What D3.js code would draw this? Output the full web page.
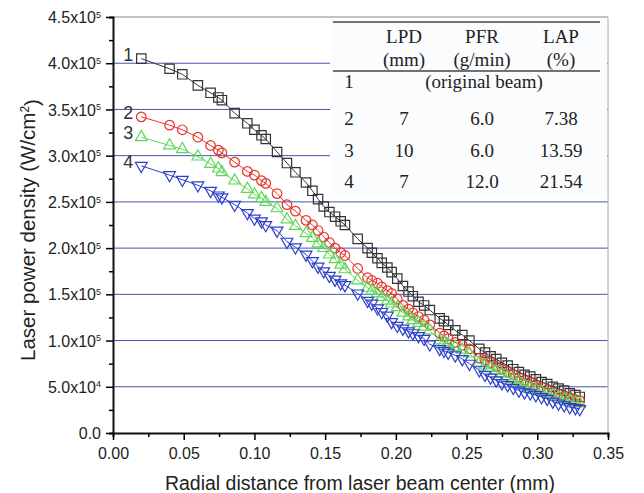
<!DOCTYPE html>
<meta charset="utf-8">
<head>
<script src="https://d3js.org/d3.v7.min.js"></script>
<style>
  body { margin: 0; background: #fff; }
  svg { display: block; }
  .tick-label { font-family: "Liberation Sans", Arial, sans-serif; font-size: 16px; fill: #222; }
  .tbl { font-family: "Liberation Serif", "Times New Roman", serif; font-size: 19px; fill: #222; }
</style>
</head>
<body>
<svg width="644" height="493"></svg>
<script>

// radial distance (mm), shared by all four curves
var xs = [0.020, 0.040, 0.049, 0.060, 0.069, 0.0745, 0.077, 0.086, 0.095, 0.100, 0.105, 0.108, 0.116, 0.123, 0.129, 0.1365, 0.141, 0.145,
          0.149, 0.153, 0.157, 0.161, 0.164, 0.173,
          0.180, 0.183, 0.187, 0.190, 0.194, 0.197, 0.201, 0.205, 0.209, 0.212, 0.216, 0.220, 0.224,
          0.231, 0.234, 0.237, 0.242, 0.247, 0.252,
          0.259, 0.263, 0.267, 0.271, 0.275, 0.279, 0.283, 0.287, 0.291, 0.295, 0.299, 0.303, 0.307, 0.311, 0.315, 0.319, 0.323, 0.327, 0.330];

// laser power density, x10^5 W/cm2
var s1 = [4.05, 3.94, 3.88, 3.76, 3.68, 3.63, 3.60, 3.46, 3.35, 3.28, 3.22, 3.18, 3.04, 2.92, 2.82, 2.71, 2.62, 2.53,
          2.45, 2.39, 2.34, 2.29, 2.25, 2.10,
          2.00, 1.95, 1.89, 1.84, 1.79, 1.74, 1.67, 1.59, 1.53, 1.48, 1.42, 1.38, 1.33,
          1.24, 1.21, 1.17, 1.11, 1.06, 1.00,
          0.91, 0.87, 0.83, 0.80, 0.76, 0.73, 0.69, 0.66, 0.63, 0.61, 0.58, 0.55, 0.53, 0.50, 0.48, 0.46, 0.43, 0.41, 0.39];
var s2 = [3.42, 3.33, 3.28, 3.20, 3.11, 3.06, 3.03, 2.93, 2.83, 2.79, 2.73, 2.70, 2.59, 2.47, 2.40, 2.30, 2.25, 2.19,
          2.12, 2.06, 2.00, 1.95, 1.92, 1.78,
          1.68, 1.65, 1.62, 1.58, 1.54, 1.51, 1.45, 1.38, 1.34, 1.30, 1.26, 1.22, 1.17,
          1.08, 1.05, 1.02, 0.98, 0.95, 0.91,
          0.81, 0.79, 0.76, 0.72, 0.69, 0.66, 0.63, 0.60, 0.57, 0.55, 0.52, 0.50, 0.47, 0.44, 0.42, 0.40, 0.38, 0.36, 0.35];
var s3 = [3.20, 3.11, 3.07, 2.99, 2.91, 2.86, 2.82, 2.73, 2.64, 2.58, 2.54, 2.50, 2.43, 2.31, 2.24, 2.16, 2.11, 2.05,
          2.00, 1.93, 1.88, 1.82, 1.77, 1.65,
          1.57, 1.54, 1.51, 1.47, 1.43, 1.40, 1.36, 1.30, 1.26, 1.22, 1.19, 1.15, 1.11,
          1.00, 0.98, 0.96, 0.93, 0.90, 0.86,
          0.76, 0.73, 0.70, 0.67, 0.64, 0.61, 0.58, 0.55, 0.52, 0.49, 0.47, 0.45, 0.43, 0.41, 0.39, 0.37, 0.35, 0.33, 0.32];
var s4 = [2.89, 2.79, 2.74, 2.68, 2.62, 2.57, 2.55, 2.47, 2.38, 2.32, 2.29, 2.25, 2.19, 2.07, 2.01, 1.93, 1.86, 1.80,
          1.75, 1.70, 1.66, 1.62, 1.60, 1.51,
          1.43, 1.40, 1.35, 1.31, 1.27, 1.20, 1.16, 1.13, 1.10, 1.08, 1.05, 1.02, 0.96,
          0.91, 0.89, 0.87, 0.84, 0.80, 0.75,
          0.68, 0.63, 0.60, 0.57, 0.54, 0.52, 0.49, 0.46, 0.44, 0.43, 0.41, 0.39, 0.37, 0.34, 0.32, 0.30, 0.28, 0.27, 0.26];

var yTicks = [0, 5e4, 1e5, 1.5e5, 2e5, 2.5e5, 3e5, 3.5e5, 4e5, 4.5e5];

var tableHead = [["", "LPD", "PFR", "LAP"], ["", "(mm)", "(g/min)", "(%)"]];
var tableRows = [["2", "7", "6.0", "7.38"], ["3", "10", "6.0", "13.59"], ["4", "7", "12.0", "21.54"]];

var svg = d3.select("svg");
var pLeft = 113, pRight = 608, pTop = 17, pBottom = 433;

var x = d3.scaleLinear().domain([0, 0.35]).range([pLeft, pRight]);
var y = d3.scaleLinear().domain([0, 4.5e5]).range([pBottom, pTop]);

// gridlines
svg.append("g").selectAll("line")
    .data(yTicks.filter(function(d) { return d > 0 && d < 4.5e5; }))
    .enter().append("line")
    .attr("x1", pLeft).attr("x2", pRight)
    .attr("y1", function(d) { return y(d); }).attr("y2", function(d) { return y(d); })
    .attr("stroke", "#4454b0").attr("stroke-width", 1);

// frame (top / right)
svg.append("line").attr("x1", pLeft).attr("x2", pRight).attr("y1", pTop).attr("y2", pTop)
    .attr("stroke", "#888").attr("stroke-width", 1);
svg.append("line").attr("x1", pRight).attr("x2", pRight).attr("y1", pTop).attr("y2", pBottom)
    .attr("stroke", "#aaa").attr("stroke-width", 1);

// inset table background
svg.append("rect").attr("x", 330).attr("y", pTop + 1).attr("width", pRight - 331).attr("height", 180)
    .attr("fill", "#fbfcfd");

// axes
var xAxis = svg.append("g").attr("transform", "translate(0," + pBottom + ")")
    .call(d3.axisBottom(x).tickValues(d3.range(0, 0.351, 0.025)).tickSize(4).tickFormat(""));
xAxis.selectAll(".tick line").attr("stroke-width", 1.5)
    .attr("y2", function(d, i) { return i % 2 === 0 ? 7 : 4; });
xAxis.select(".domain").attr("stroke-width", 2);
xAxis.selectAll(".tick").filter(function(d, i) { return i % 2 === 0; })
    .append("text").attr("class", "tick-label").attr("y", 26).attr("text-anchor", "middle")
    .text(function(d) { return d3.format(".2f")(d); });

var yAxis = svg.append("g").attr("transform", "translate(" + pLeft + ",0)")
    .call(d3.axisLeft(y).tickValues(d3.range(0, 4.51e5, 2.5e4)).tickSize(4).tickFormat(""));
yAxis.selectAll(".tick line").attr("stroke-width", 1.5)
    .attr("x2", function(d, i) { return i % 2 === 0 ? -7 : -4; });
yAxis.select(".domain").attr("stroke-width", 2);
yAxis.selectAll(".tick").filter(function(d, i) { return i % 2 === 0; })
    .each(function(d) {
        var t = d3.select(this).append("text").attr("class", "tick-label")
            .attr("x", -12).attr("dy", "0.35em").attr("text-anchor", "end");
        if (d === 0) { t.text("0.0"); return; }
        var e = Math.floor(Math.log10(d));
        t.append("tspan").text((d / Math.pow(10, e)).toFixed(1) + "x10");
        t.append("tspan").attr("dy", "-0.6em").attr("font-size", "9px").text(e);
    });
svg.selectAll(".domain").attr("stroke", "#111");

// axis titles
svg.append("text").attr("x", 360).attr("y", 490).attr("text-anchor", "middle")
    .attr("font-family", "Liberation Sans, Arial, sans-serif").attr("font-size", "19.5px").attr("fill", "#222")
    .text("Radial distance from laser beam center (mm)");
var yl = svg.append("text").attr("transform", "translate(35,230) rotate(-90)").attr("text-anchor", "middle")
    .attr("font-family", "Liberation Sans, Arial, sans-serif").attr("font-size", "20.5px").attr("fill", "#222");
yl.append("tspan").text("Laser power density (W/cm");
yl.append("tspan").attr("dy", "-0.5em").attr("font-size", "12px").text("2");
yl.append("tspan").attr("dy", "0.5em").text(")");

// series
var series = [
    { name: "1", vals: s1, color: "#333333", shape: "square" },
    { name: "2", vals: s2, color: "#e8332a", shape: "circle" },
    { name: "3", vals: s3, color: "#5fd85a", shape: "up" },
    { name: "4", vals: s4, color: "#2d3fc8", shape: "down" }
];

var line = d3.line().x(function(d) { return x(d[0]); }).y(function(d) { return y(d[1] * 1e5); });

series.forEach(function(s) {
    var pts = xs.map(function(xv, i) { return [xv, s.vals[i]]; });
    var g = svg.append("g");
    g.append("path").attr("d", line(pts)).attr("fill", "none")
        .attr("stroke", s.color).attr("stroke-width", 1);
    var sym;
    if (s.shape === "square") sym = d3.symbol().type(d3.symbolSquare).size(88);
    else if (s.shape === "circle") sym = d3.symbol().type(d3.symbolCircle).size(72);
    else sym = d3.symbol().type(d3.symbolTriangle).size(60);
    g.selectAll("path.m").data(pts).enter().append("path").attr("class", "m")
        .attr("d", sym)
        .attr("transform", function(d) {
            var r = s.shape === "down" ? " rotate(180)" : "";
            return "translate(" + x(d[0]) + "," + y(d[1] * 1e5) + ")" + r;
        })
        .attr("fill", "none").attr("stroke", s.color).attr("stroke-width", 1.2);
    svg.append("text").attr("x", x(pts[0][0]) - 8).attr("y", y(pts[0][1] * 1e5) + 2)
        .attr("text-anchor", "end")
        .attr("font-family", "Liberation Sans, Arial, sans-serif").attr("font-size", "18px").attr("fill", "#333")
        .text(s.name);
});

// inset table
var colX = [349, 404, 482, 561];
svg.append("line").attr("x1", 333).attr("x2", 600).attr("y1", 22).attr("y2", 22)
    .attr("stroke", "#444").attr("stroke-width", 1.5);
svg.append("line").attr("x1", 333).attr("x2", 600).attr("y1", 71).attr("y2", 71)
    .attr("stroke", "#444").attr("stroke-width", 1.5);
var headY = [43, 66];
tableHead.forEach(function(row, r) {
    row.forEach(function(c, i) {
        svg.append("text").attr("class", "tbl").attr("x", colX[i]).attr("y", headY[r])
            .attr("text-anchor", "middle").text(c);
    });
});
svg.append("text").attr("class", "tbl").attr("x", colX[0]).attr("y", 88).attr("text-anchor", "middle").text("1");
svg.append("text").attr("class", "tbl").attr("x", 484).attr("y", 88).attr("text-anchor", "middle").text("(original beam)");
var rowY = [125, 157, 188];
tableRows.forEach(function(row, r) {
    row.forEach(function(c, i) {
        svg.append("text").attr("class", "tbl").attr("x", colX[i]).attr("y", rowY[r])
            .attr("text-anchor", "middle").text(c);
    });
});

</script>
</body>
